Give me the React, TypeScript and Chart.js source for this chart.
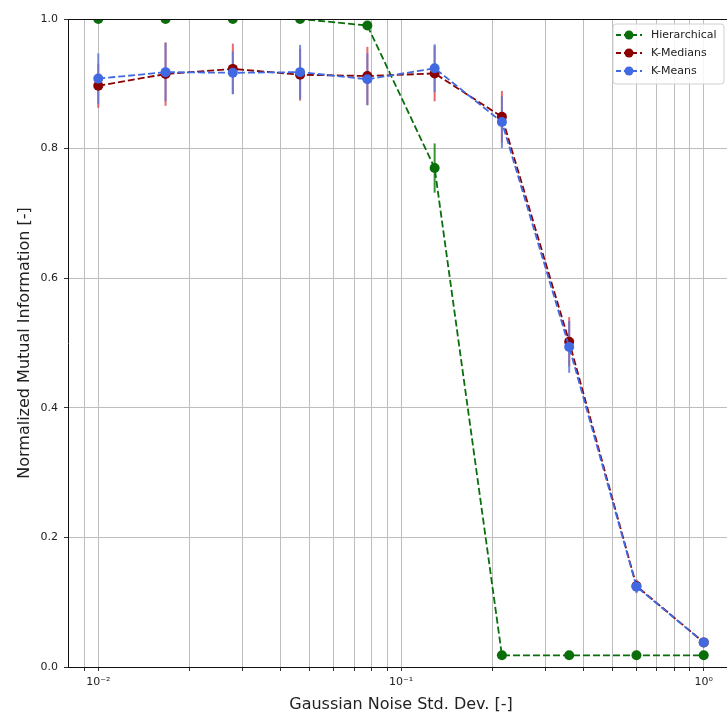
import React, { useEffect, useRef } from 'react';
import { Chart, registerables } from 'chart.js';

Chart.register(...registerables);

// ---- data ----
const noiseStd = [0.01, 0.016681, 0.027826, 0.046416, 0.077426, 0.129155, 0.215443, 0.359381, 0.599484, 1.0];

const hierarchical = [1.0, 1.0, 1.0, 1.0, 0.99, 0.77, 0.018, 0.018, 0.018, 0.018];
const hierarchicalErr = [0, 0, 0, 0, 0.003, 0.038, 0, 0, 0, 0];

const kMedians = [0.897, 0.915, 0.923, 0.914, 0.912, 0.916, 0.849, 0.502, 0.125, 0.038];
const kMediansErr = [0.034, 0.049, 0.039, 0.040, 0.045, 0.043, 0.040, 0.038, 0.010, 0.004];

const kMeans = [0.908, 0.918, 0.917, 0.918, 0.907, 0.924, 0.841, 0.494, 0.124, 0.038];
const kMeansErr = [0.039, 0.045, 0.033, 0.042, 0.040, 0.037, 0.040, 0.040, 0.010, 0.004];

const seriesLabels = ['Hierarchical', 'K-Medians', 'K-Means'];

const xTickValues = [
  0.009,
  0.01, 0.02, 0.03, 0.04, 0.05, 0.06, 0.07, 0.08, 0.09,
  0.1, 0.2, 0.3, 0.4, 0.5, 0.6, 0.7, 0.8, 0.9,
  1.0,
];
const xMajorTicks = [0.01, 0.1, 1.0];
const xMajorLabels = ['10\u207B\u00B2', '10\u207B\u00B9', '10\u2070'];

const yTicks = [0, 0.2, 0.4, 0.6, 0.8, 1.0];

const FONT = 'DejaVu Sans';

export default function App() {
  const ref = useRef<HTMLCanvasElement>(null);

  useEffect(() => {
    const canvas = ref.current;
    if (!canvas) return;

    const errSets = [
      { values: hierarchical, errs: hierarchicalErr, color: 'rgba(20,130,20,0.85)' },
      { values: kMedians, errs: kMediansErr, color: 'rgba(225,70,70,0.8)' },
      { values: kMeans, errs: kMeansErr, color: 'rgba(95,120,215,0.85)' },
    ];

    const errorBars = {
      id: 'errorBars',
      beforeDatasetsDraw(chart: any) {
        const { ctx, scales, chartArea } = chart;
        const x = scales.x;
        const y = scales.y;
        ctx.save();
        ctx.beginPath();
        ctx.rect(chartArea.left, chartArea.top, chartArea.right - chartArea.left, chartArea.bottom - chartArea.top);
        ctx.clip();
        errSets.forEach((s) => {
          ctx.strokeStyle = s.color;
          ctx.lineWidth = 2;
          s.values.forEach((v, i) => {
            const e = s.errs[i];
            if (!e) return;
            const px = x.getPixelForValue(noiseStd[i]);
            ctx.beginPath();
            ctx.moveTo(px, y.getPixelForValue(v - e));
            ctx.lineTo(px, y.getPixelForValue(v + e));
            ctx.stroke();
          });
        });
        ctx.restore();
      },
      afterDatasetsDraw(chart: any) {
        // clip marks that overflow above the axes (as matplotlib does)
        const { ctx, chartArea, width } = chart;
        ctx.save();
        ctx.fillStyle = '#ffffff';
        ctx.fillRect(chartArea.left + 1, 0, width - chartArea.left, chartArea.top);
        ctx.restore();
      },
    };

    const frameAndLegend = {
      id: 'frameAndLegend',
      afterDraw(chart: any) {
        const { ctx, chartArea } = chart;
        ctx.save();
        // top spine
        ctx.strokeStyle = '#111';
        ctx.lineWidth = 1;
        ctx.beginPath();
        ctx.moveTo(chartArea.left, chartArea.top + 0.5);
        ctx.lineTo(chartArea.right, chartArea.top + 0.5);
        ctx.stroke();

        // legend
        const bx = 613, by = 24, bw = 111, bh = 60, r = 3;
        ctx.beginPath();
        ctx.moveTo(bx + r, by);
        ctx.lineTo(bx + bw - r, by);
        ctx.arcTo(bx + bw, by, bx + bw, by + r, r);
        ctx.lineTo(bx + bw, by + bh - r);
        ctx.arcTo(bx + bw, by + bh, bx + bw - r, by + bh, r);
        ctx.lineTo(bx + r, by + bh);
        ctx.arcTo(bx, by + bh, bx, by + bh - r, r);
        ctx.lineTo(bx, by + r);
        ctx.arcTo(bx, by, bx + r, by, r);
        ctx.closePath();
        ctx.fillStyle = 'rgba(255,255,255,0.85)';
        ctx.fill();
        ctx.strokeStyle = '#d0d0d0';
        ctx.stroke();

        chart.data.datasets.forEach((ds: any, i: number) => {
          const yy = 35 + 18 * i;
          ctx.strokeStyle = ds.borderColor;
          ctx.lineWidth = 1.8;
          ctx.setLineDash([5, 3]);
          ctx.beginPath();
          ctx.moveTo(616, yy);
          ctx.lineTo(642, yy);
          ctx.stroke();
          ctx.setLineDash([]);
          ctx.fillStyle = ds.borderColor;
          ctx.beginPath();
          ctx.arc(629, yy, 4.5, 0, Math.PI * 2);
          ctx.fill();
          ctx.fillStyle = '#222';
          ctx.font = `11px "${FONT}"`;
          ctx.textBaseline = 'middle';
          ctx.textAlign = 'left';
          ctx.fillText(ds.label, 651, yy + 0.5);
        });
        ctx.restore();
      },
    };

    const mk = (label: string, vals: number[], color: string, order: number) => ({
      label,
      data: noiseStd.map((x, i) => ({ x, y: vals[i] })),
      borderColor: color,
      backgroundColor: color,
      borderWidth: 1.8,
      borderDash: [7, 3],
      pointRadius: 5,
      pointHoverRadius: 5,
      pointBorderWidth: 0,
      pointBackgroundColor: color,
      tension: 0,
      clip: 0,
      order,
    });

    const chart = new Chart(canvas, {
      type: 'line',
      data: {
        datasets: [
          mk(seriesLabels[0], hierarchical, '#0a6e0a', 3),
          mk(seriesLabels[1], kMedians, '#8b0000', 2),
          mk(seriesLabels[2], kMeans, '#4169e1', 1),
        ],
      },
      options: {
        responsive: false,
        animation: false,
        devicePixelRatio: 1,
        layout: { padding: { left: 0, right: 6, top: 19, bottom: 0 } },
        plugins: {
          legend: { display: false },
          tooltip: { enabled: false },
        },
        scales: {
          x: {
            type: 'logarithmic',
            min: Math.pow(10, -2.1),
            max: Math.pow(10, 0.1),
            afterBuildTicks: (scale: any) => {
              scale.ticks = xTickValues.map((v) => ({ value: v }));
            },
            afterFit: (scale: any) => {
              scale.height = 51;
            },
            ticks: {
              autoSkip: false,
              maxRotation: 0,
              minRotation: 0,
              padding: 5,
              color: '#222',
              font: { family: FONT, size: 11 },
              callback: (value: any) => {
                const v = Number(value);
                const idx = xMajorTicks.findIndex((m) => Math.abs(m - v) / m < 1e-6);
                return idx >= 0 ? xMajorLabels[idx] : '';
              },
            },
            grid: {
              color: '#bdbdbd',
              lineWidth: 1,
              tickColor: '#333',
              tickLength: 4,
            },
            border: { display: true, color: '#111', width: 1 },
            title: {
              display: true,
              text: 'Gaussian Noise Std. Dev. [-]',
              color: '#222',
              font: { family: FONT, size: 16 },
              padding: { top: 0, bottom: 4 },
            },
          },
          y: {
            type: 'linear',
            min: 0,
            max: 1,
            afterBuildTicks: (scale: any) => {
              scale.ticks = yTicks.map((v) => ({ value: v }));
            },
            afterFit: (scale: any) => {
              scale.width = 68;
            },
            ticks: {
              padding: 6,
              color: '#222',
              font: { family: FONT, size: 11 },
              callback: (value: any) => Number(value).toFixed(1),
            },
            grid: {
              color: '#bdbdbd',
              lineWidth: 1,
              tickColor: '#333',
              tickLength: 4,
            },
            border: { display: true, color: '#111', width: 1 },
            title: {
              display: true,
              text: 'Normalized Mutual Information [-]',
              color: '#222',
              font: { family: FONT, size: 16 },
              padding: { top: 15, bottom: 0 },
            },
          },
        },
      },
      plugins: [errorBars, frameAndLegend],
    } as any);

    return () => chart.destroy();
  }, []);

  return (
    <div
      style={{
        position: 'fixed',
        left: 0,
        top: 0,
        width: 727,
        height: 718,
        overflow: 'hidden',
        background: '#fff',
      }}
    >
      <div style={{ width: 740, height: 718 }}>
        <canvas ref={ref} width={740} height={718} style={{ display: 'block', width: 740, height: 718 }} />
      </div>
    </div>
  );
}
